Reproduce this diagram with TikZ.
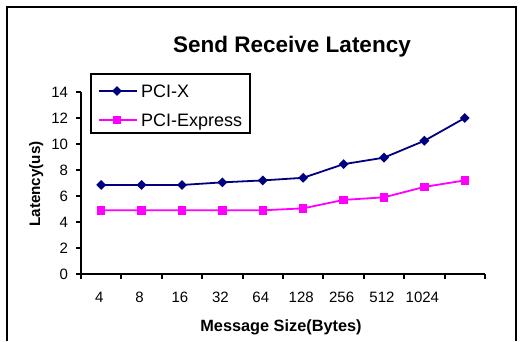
\documentclass[tikz,border=0pt]{standalone}
\usepackage{fontspec}
\setmainfont{Liberation Sans}
\usetikzlibrary{shapes.geometric,positioning}
\definecolor{pcix}{RGB}{0,0,128}
\definecolor{pcie}{RGB}{255,0,255}

\begin{document}
\begin{tikzpicture}[x=1pt,y=-1pt,
  axisline/.style={line width=2pt},
  ticklabel/.style={font=\fontsize{15}{15}\selectfont},
  dmark/.style={diamond,fill=pcix,inner sep=0pt,minimum size=10pt},
  smark/.style={rectangle,fill=pcie,inner sep=0pt,minimum size=8.5pt},
  xline/.style={draw=pcix,line width=1.8pt},
  eline/.style={draw=pcie,line width=1.8pt}]
\useasboundingbox (0,0) rectangle (521,341);
\draw[line width=1.5pt] (7,341) -- (7,7) -- (516,7) -- (516,341);

\node (title) at (292,52) [anchor=base,font=\fontsize{22.5}{22.5}\selectfont\bfseries] {Send Receive Latency};
\node (ytitle) at (40,184) [anchor=base,rotate=90,font=\fontsize{15.2}{15.2}\selectfont\bfseries] {Latency(us)};
\node (xtitle) at (281,331) [anchor=base,font=\fontsize{16.3}{16.3}\selectfont\bfseries] {Message Size(Bytes)};

\begin{scope}[shift={(81,274)},x=40.4pt,y=13pt]
\draw[axisline] (0,14) -- (0,0) -- (10,0);
\foreach \v in {0,2,...,14}{
\draw[axisline] (0,\v) -- ++(-5pt,0) node [left,inner sep=7pt,ticklabel] {\v};
}
\foreach \i in {0,...,10}{
\draw[axisline] (\i,0) -- ++(0,-4.5pt);
}
\foreach \l [count=\i] in {4,8,16,32,64,128,256,512,1024}{
\node (xl\i) at (\i-0.55,0) [yshift=-23pt,ticklabel] {\l};
}

% PCI-X
\foreach \v [count=\i] in {6.85,6.85,6.85,7.05,7.2,7.4,8.45,8.95,10.25,12.0}
  \coordinate (x\i) at (\i-0.5,\v);
\draw[xline] (x1) \foreach \i in {2,...,10}{ -- (x\i)};
\foreach \i in {1,...,10} \node[dmark] (dx\i) at (x\i) {};

% PCI-Express
\foreach \v [count=\i] in {4.9,4.9,4.9,4.9,4.9,5.05,5.7,5.9,6.7,7.2}
  \coordinate (e\i) at (\i-0.5,\v);
\draw[eline] (e1) \foreach \i in {2,...,10}{ -- (e\i)};
\foreach \i in {1,...,10} \node[smark] (se\i) at (e\i) {};
\end{scope}

% legend
\draw[line width=1.5pt] (91,74) rectangle (250,133);
\coordinate (lx0) at (99,91);
\coordinate (lx1) at (137,91);
\draw[xline] (lx0) -- (lx1);
\node[dmark] (lxm) at (117,91) {};
\node (lxt) at (141,97) [anchor=base west,inner sep=0pt,font=\fontsize{18}{18}\selectfont] {PCI-X};
\coordinate (le0) at (99,120);
\coordinate (le1) at (137,120);
\draw[eline] (le0) -- (le1);
\node[smark] (lem) at (117,120) {};
\node (let) at (141,126) [anchor=base west,inner sep=0pt,font=\fontsize{18}{18}\selectfont] {PCI-Express};
\end{tikzpicture}
\end{document}
